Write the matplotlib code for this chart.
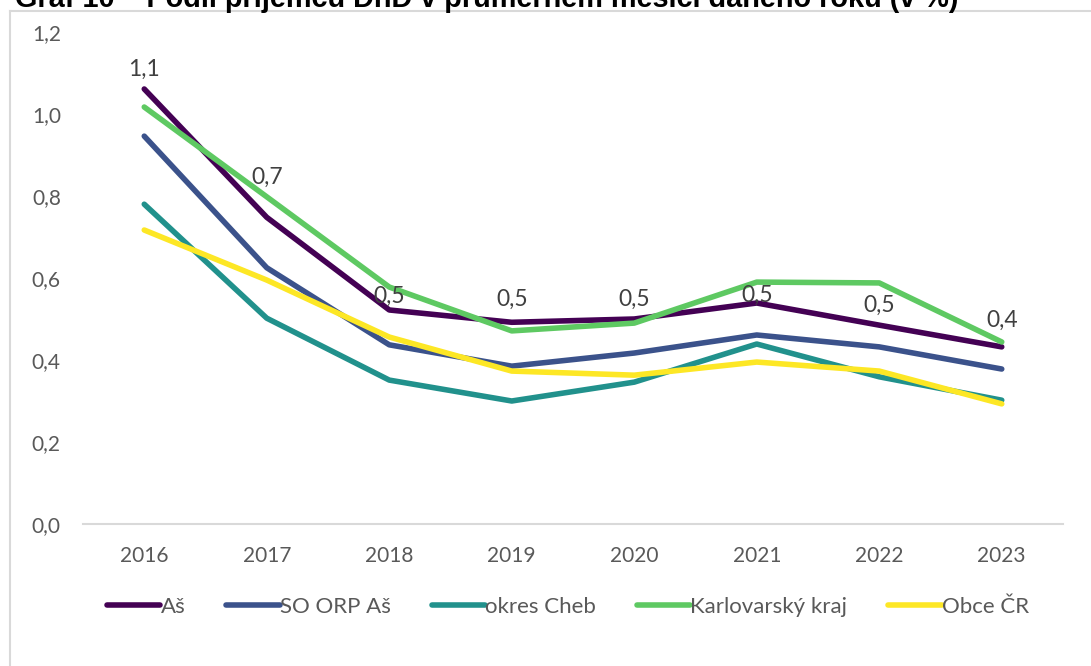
import matplotlib.pyplot as plt
from matplotlib.lines import Line2D

plt.rcParams['font.family'] = ['Lato', 'DejaVu Sans']

# Data
years = ["2016", "2017", "2018", "2019", "2020", "2021", "2022", "2023"]
as_city = [1.061, 0.748, 0.522, 0.492, 0.500, 0.539, 0.485, 0.432]
so_orp_as = [0.946, 0.625, 0.437, 0.385, 0.417, 0.461, 0.432, 0.378]
okres_cheb = [0.780, 0.502, 0.351, 0.300, 0.346, 0.439, 0.359, 0.302]
karlovarsky = [1.017, 0.798, 0.578, 0.471, 0.490, 0.590, 0.588, 0.444]
obce_cr = [0.717, 0.595, 0.456, 0.373, 0.363, 0.395, 0.373, 0.293]

series = [
    ("Aš", as_city, "#440154"),
    ("SO ORP Aš", so_orp_as, "#3b528b"),
    ("okres Cheb", okres_cheb, "#21918c"),
    ("Karlovarský kraj", karlovarsky, "#5ec962"),
    ("Obce ČR", obce_cr, "#fde725"),
]

# vertical offset of each data label above its point (pixels), as in the original
label_lift = [20, 40, 14, 23, 20, 8, 20, 27]

W, H = 1091, 666
fig = plt.figure(figsize=(W / 100, H / 100), dpi=100)
ax = fig.add_axes([83 / W, (H - 524) / H, (1063 - 83) / W, (524 - 32) / H])

x = range(len(years))
for name, vals, col in series:
    ax.plot(x, vals, color=col, linewidth=4, label=name, solid_capstyle="round")

# data labels for Aš
for i, v in enumerate(as_city):
    ax.annotate(f"{v:.1f}".replace(".", ","), (i, v), xytext=(0, label_lift[i] * 0.72),
                textcoords="offset points", ha="center", va="center",
                fontsize=16.5, color="#404040")

ax.set_xlim(-0.5, len(years) - 0.5)
ax.set_ylim(0, 1.2)
ax.set_xticks(list(x))
ax.set_xticklabels(years)
yt = [0, 0.2, 0.4, 0.6, 0.8, 1.0, 1.2]
ax.set_yticks(yt)
ax.set_yticklabels([f"{t:.1f}".replace(".", ",") for t in yt])
ax.tick_params(axis="both", length=0, labelsize=15, colors="#595959")
ax.tick_params(axis="x", pad=16)
ax.tick_params(axis="y", pad=16)
for s in ["top", "right", "left"]:
    ax.spines[s].set_visible(False)
ax.spines["bottom"].set_color("#d9d9d9")
ax.spines["bottom"].set_linewidth(1.5)

fig.legend(loc="center", bbox_to_anchor=(568 / W, (H - 607) / H), ncol=5,
           frameon=False, fontsize=16, handlelength=2.4, handletextpad=0.0,
           columnspacing=1.85, labelcolor="#595959")

# chart frame (partially cropped)
fig.add_artist(Line2D([10 / W, 10 / W], [0, 1 - 11 / H], color="#d9d9d9", lw=1.5))
fig.add_artist(Line2D([10 / W, 1], [1 - 11 / H, 1 - 11 / H], color="#d9d9d9", lw=1.5))

fig.text(15 / W, 1 - 7 / H, "Graf 10 – Podíl příjemců DhD v průměrném měsíci daného roku (v %)",
         va="baseline", ha="left", fontsize=20.8, fontweight="bold",
         family=["Liberation Sans", "DejaVu Sans"], color="black")

fig.savefig("out.png", dpi=100)
